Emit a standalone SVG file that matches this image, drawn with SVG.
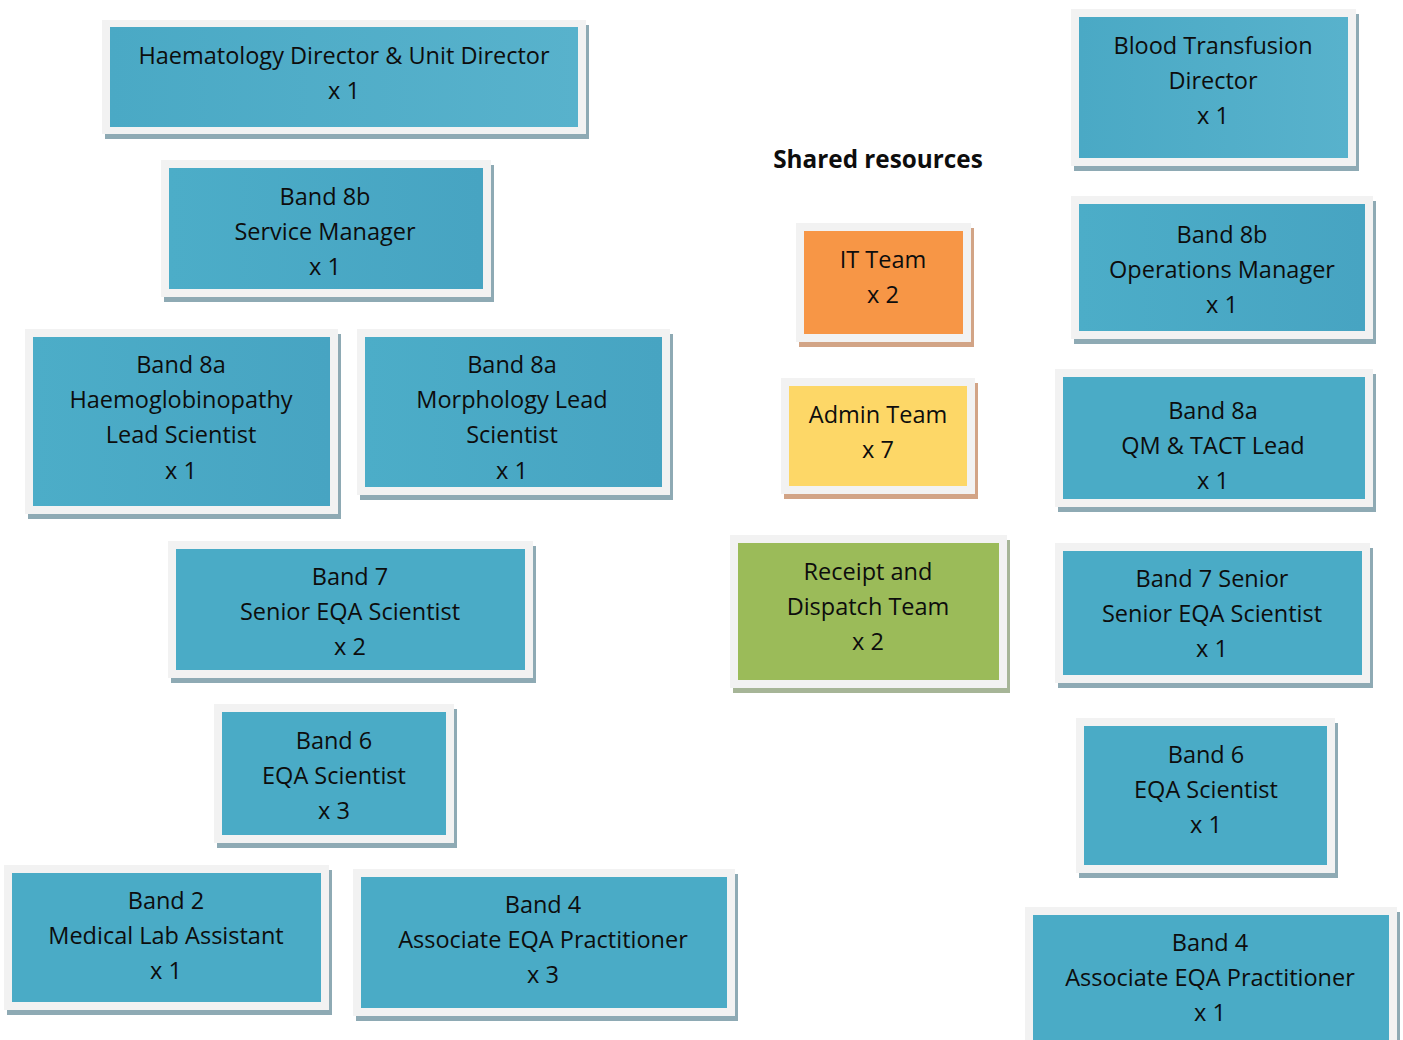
<svg xmlns="http://www.w3.org/2000/svg" width="1403" height="1040" viewBox="0 0 1403 1040">
<defs>
<linearGradient id="gLight" x1="0" y1="0" x2="1" y2="0"><stop offset="0" stop-color="#4aa9c5"/><stop offset="1" stop-color="#58b2cc"/></linearGradient>
<linearGradient id="gDark" x1="0" y1="0" x2="1" y2="0"><stop offset="0" stop-color="#4cadc8"/><stop offset="1" stop-color="#47a4c2"/></linearGradient>
</defs>
<style>
.fr{fill:#f2f2f2}
.sht{fill:#8eaab4}
.sho{fill:#d2a486}
.shg{fill:#a6b597}
.teal{fill:#4aabc6}
.orange{fill:#f79646}
.yellow{fill:#fdd767}
.green{fill:#9bbb59}
text{font-family:"Open Sans","Liberation Sans",sans-serif;font-size:23.5px;fill:#0d0d0d;text-anchor:middle}
.title{font-weight:bold;font-size:24.3px}
</style>
<rect width="1403" height="1040" fill="#ffffff"/>
<g id="connectors"/>

<g id="haematology-director">
<rect class="sht" x="105" y="25" width="484" height="114"/>
<rect class="fr" x="102" y="20" width="484" height="114"/>
<rect x="110" y="27" width="468" height="100" fill="url(#gLight)"/>
<text x="344" y="64">Haematology Director &amp; Unit Director</text>
<text x="344" y="99">x 1</text>
</g>

<g id="service-manager">
<rect class="sht" x="164" y="165" width="330" height="137"/>
<rect class="fr" x="161" y="160" width="330" height="137"/>
<rect x="169" y="168" width="314" height="121" fill="url(#gDark)"/>
<text x="325" y="205">Band 8b</text>
<text x="325" y="240">Service Manager</text>
<text x="325" y="275">x 1</text>
</g>

<g id="haemoglobinopathy-lead">
<rect class="sht" x="28" y="334" width="313" height="185"/>
<rect class="fr" x="25" y="329" width="313" height="185"/>
<rect x="33" y="337" width="297" height="169" fill="url(#gDark)"/>
<text x="181" y="373">Band 8a</text>
<text x="181" y="408">Haemoglobinopathy</text>
<text x="181" y="443">Lead Scientist</text>
<text x="181" y="479">x 1</text>
</g>

<g id="morphology-lead">
<rect class="sht" x="360" y="334" width="313" height="166"/>
<rect class="fr" x="357" y="329" width="313" height="166"/>
<rect x="365" y="337" width="297" height="150" fill="url(#gDark)"/>
<text x="512" y="373">Band 8a</text>
<text x="512" y="408">Morphology Lead</text>
<text x="512" y="443">Scientist</text>
<text x="512" y="479">x 1</text>
</g>

<g id="band7-left">
<rect class="sht" x="171" y="546" width="365" height="137"/>
<rect class="fr" x="168" y="541" width="365" height="137"/>
<rect class="teal" x="176" y="549" width="349" height="121"/>
<text x="350" y="585">Band 7</text>
<text x="350" y="620">Senior EQA Scientist</text>
<text x="350" y="655">x 2</text>
</g>

<g id="band6-left">
<rect class="sht" x="217" y="709" width="240" height="139"/>
<rect class="fr" x="214" y="704" width="240" height="139"/>
<rect class="teal" x="222" y="712" width="224" height="123"/>
<text x="334" y="749">Band 6</text>
<text x="334" y="784">EQA Scientist</text>
<text x="334" y="819">x 3</text>
</g>

<g id="band2-left">
<rect class="sht" x="7" y="870" width="325" height="145"/>
<rect class="fr" x="4" y="865" width="325" height="145"/>
<rect class="teal" x="12" y="873" width="309" height="129"/>
<text x="166" y="909">Band 2</text>
<text x="166" y="944">Medical Lab Assistant</text>
<text x="166" y="979">x 1</text>
</g>

<g id="band4-left">
<rect class="sht" x="356" y="874" width="382" height="147"/>
<rect class="fr" x="353" y="869" width="382" height="147"/>
<rect class="teal" x="361" y="877" width="366" height="131"/>
<text x="543" y="913">Band 4</text>
<text x="543" y="948">Associate EQA Practitioner</text>
<text x="543" y="983">x 3</text>
</g>

<g id="shared-resources">
<text class="title" x="878" y="168">Shared resources</text>
</g>

<g id="it-team">
<rect class="sho" x="799" y="228" width="175" height="119"/>
<rect class="fr" x="796" y="223" width="175" height="119"/>
<rect class="orange" x="804" y="231" width="159" height="103"/>
<text x="883" y="268">IT Team</text>
<text x="883" y="303">x 2</text>
</g>

<g id="admin-team">
<rect class="sho" x="784" y="383" width="194" height="116"/>
<rect class="fr" x="781" y="378" width="194" height="116"/>
<rect class="yellow" x="789" y="386" width="178" height="100"/>
<text x="878" y="423">Admin Team</text>
<text x="878" y="458">x 7</text>
</g>

<g id="receipt-dispatch">
<rect class="shg" x="733" y="540" width="277" height="153"/>
<rect class="fr" x="730" y="535" width="277" height="153"/>
<rect class="green" x="738" y="543" width="261" height="137"/>
<text x="868" y="580">Receipt and</text>
<text x="868" y="615">Dispatch Team</text>
<text x="868" y="650">x 2</text>
</g>

<g id="blood-transfusion-director">
<rect class="sht" x="1074" y="14" width="285" height="157"/>
<rect class="fr" x="1071" y="9" width="285" height="157"/>
<rect x="1079" y="17" width="269" height="141" fill="url(#gLight)"/>
<text x="1213" y="54">Blood Transfusion</text>
<text x="1213" y="89">Director</text>
<text x="1213" y="124">x 1</text>
</g>

<g id="operations-manager">
<rect class="sht" x="1074" y="201" width="302" height="143"/>
<rect class="fr" x="1071" y="196" width="302" height="143"/>
<rect x="1079" y="204" width="286" height="127" fill="url(#gDark)"/>
<text x="1222" y="243">Band 8b</text>
<text x="1222" y="278">Operations Manager</text>
<text x="1222" y="313">x 1</text>
</g>

<g id="qm-tact-lead">
<rect class="sht" x="1058" y="374" width="318" height="138"/>
<rect class="fr" x="1055" y="369" width="318" height="138"/>
<rect class="teal" x="1063" y="377" width="302" height="122"/>
<text x="1213" y="419">Band 8a</text>
<text x="1213" y="454">QM &amp; TACT Lead</text>
<text x="1213" y="489">x 1</text>
</g>

<g id="band7-right">
<rect class="sht" x="1058" y="548" width="315" height="140"/>
<rect class="fr" x="1055" y="543" width="315" height="140"/>
<rect class="teal" x="1063" y="551" width="299" height="124"/>
<text x="1212" y="587">Band 7 Senior</text>
<text x="1212" y="622">Senior EQA Scientist</text>
<text x="1212" y="657">x 1</text>
</g>

<g id="band6-right">
<rect class="sht" x="1079" y="723" width="259" height="155"/>
<rect class="fr" x="1076" y="718" width="259" height="155"/>
<rect class="teal" x="1084" y="726" width="243" height="139"/>
<text x="1206" y="763">Band 6</text>
<text x="1206" y="798">EQA Scientist</text>
<text x="1206" y="833">x 1</text>
</g>

<g id="band4-right">
<rect class="sht" x="1028" y="912" width="372" height="150"/>
<rect class="fr" x="1025" y="907" width="372" height="150"/>
<rect class="teal" x="1033" y="915" width="356" height="140"/>
<text x="1210" y="951">Band 4</text>
<text x="1210" y="986">Associate EQA Practitioner</text>
<text x="1210" y="1021">x 1</text>
</g>
</svg>
